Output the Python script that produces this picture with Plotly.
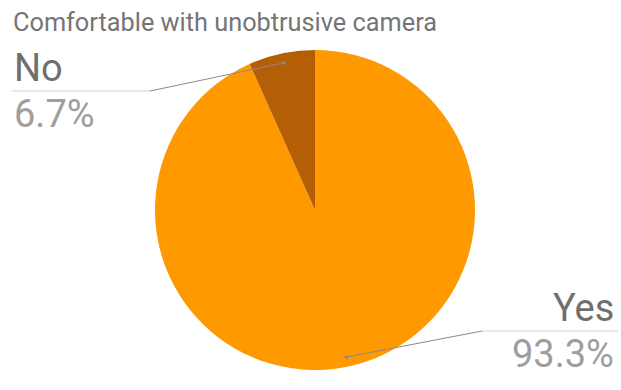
import math
import plotly.graph_objects as go

# Survey answers
labels = ["Yes", "No"]
values = [93.3, 6.7]
colors = ["#FF9900", "#B45F06"]
title = "Comfortable with unobtrusive camera"

W, H = 621, 390
cx, cy, r = 315, 210, 160  # pie centre and radius in pixels


def px(x):
    return x / W


def py(y):
    return 1 - y / H


fig = go.Figure(
    go.Pie(
        labels=labels,
        values=values,
        marker=dict(colors=colors, line=dict(width=0)),
        sort=False,
        direction="clockwise",
        rotation=0,
        textinfo="none",
        hoverinfo="label+percent",
        showlegend=False,
        domain=dict(x=[px(cx - r), px(cx + r)], y=[py(cy + r), py(cy - r)]),
    )
)

# Leader lines start inside each slice at its mid-angle
total = sum(values)
start = 0.0
anchors = []
for v in values:
    mid = start + v / total * 360 / 2
    a = math.radians(mid)
    anchors.append((cx + 0.94 * r * math.sin(a), cy - 0.94 * r * math.cos(a)))
    start += v / total * 360

# Label placement: elbow x, underline y, underline end x, text anchor side
label_spots = {
    "No": dict(elbow=150, line_y=91, end=12, side="left"),
    "Yes": dict(elbow=482, line_y=331, end=618, side="right"),
}

shapes = []
annotations = [
    dict(text=title, x=px(11), y=py(22), xref="paper", yref="paper",
         xanchor="left", yanchor="middle", showarrow=False,
         font=dict(family="Roboto", size=25.3, color="#757575"))
]
for lab, v, (ax, ay) in zip(labels, values, anchors):
    s = label_spots[lab]
    shapes.append(dict(type="line", xref="paper", yref="paper",
                       x0=px(ax), y0=py(ay), x1=px(s["elbow"]), y1=py(s["line_y"]),
                       line=dict(color="#8a8a8a", width=1)))
    shapes.append(dict(type="line", xref="paper", yref="paper",
                       x0=px(s["elbow"]), y0=py(s["line_y"]), x1=px(s["end"]), y1=py(s["line_y"]),
                       line=dict(color="#d0d0d0", width=1)))
    shapes.append(dict(type="circle", xref="paper", yref="paper",
                       x0=px(ax - 1.8), x1=px(ax + 1.8), y0=py(ay - 1.8), y1=py(ay + 1.8),
                       fillcolor="#8a8a8a", line=dict(width=0)))
    xa = s["end"] if s["side"] == "left" else s["end"] - 2
    annotations.append(dict(text=lab, x=px(xa), y=py(s["line_y"] + 1), xref="paper", yref="paper",
                            xanchor=s["side"], yanchor="bottom", showarrow=False,
                            font=dict(family="Roboto", size=38, color="#6f6f6f")))
    annotations.append(dict(text=f"{v:.1f}%", x=px(xa), y=py(s["line_y"] - 1), xref="paper", yref="paper",
                            xanchor=s["side"], yanchor="top", showarrow=False,
                            font=dict(family="Roboto", size=38, color="#9e9e9e")))

fig.update_layout(
    width=W, height=H,
    margin=dict(l=0, r=0, t=0, b=0),
    paper_bgcolor="white",
    shapes=shapes,
    annotations=annotations,
)

fig.write_html("out.html")
